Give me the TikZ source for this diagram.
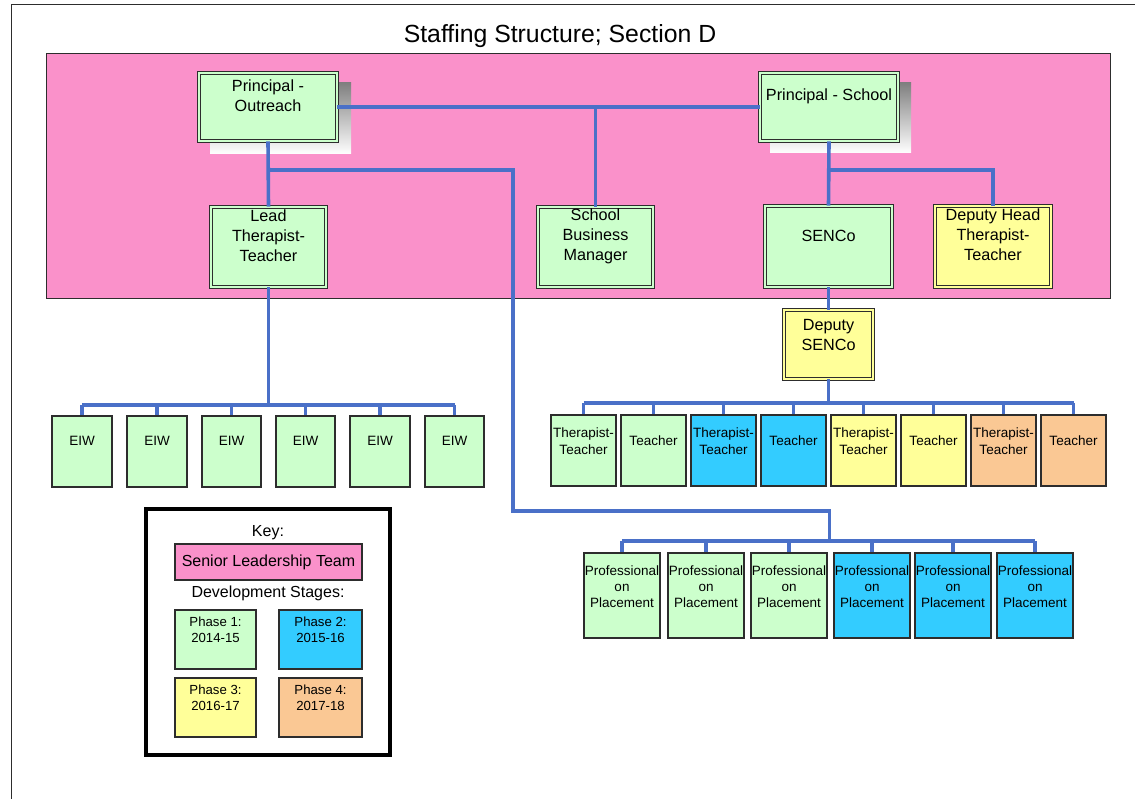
\documentclass[tikz,border=0pt]{standalone}
\usepackage{fontspec}
\setmainfont{Liberation Sans}
\definecolor{slt}{RGB}{250,145,202}
\definecolor{ph1}{RGB}{204,255,204}
\definecolor{ph2}{RGB}{51,204,255}
\definecolor{ph3}{RGB}{255,255,153}
\definecolor{ph4}{RGB}{250,200,148}
\definecolor{linkblue}{RGB}{74,112,200}
\definecolor{boxedge}{RGB}{45,45,45}
\definecolor{shade}{RGB}{200,200,200}
% box: name, style, left, top, right, bottom
\newcommand{\unitbox}[6]{%
  \node[#2, minimum width={(#5)-(#3)}, minimum height={(#6)-(#4)}] (#1)
    at ({((#3)+(#5))/2},{((#4)+(#6))/2}) {};}
\begin{document}
\begin{tikzpicture}[x=1pt,y=-1pt,
  conn/.style={draw=linkblue, line width=3.6pt},
  bigbox/.style={draw=boxedge, double=#1, double distance=2pt, line width=0.8pt, fill=#1, inner sep=0pt},
  smallbox/.style={draw=boxedge, line width=1.1pt, fill=#1, inner sep=0pt},
  big/.style={align=center, inner sep=0pt, font=\fontsize{16.2}{20}\selectfont},
  small/.style={align=center, inner sep=0pt, font=\fontsize{13.5}{17}\selectfont},
  pp/.style={align=center, inner sep=0pt, font=\fontsize{13.5}{16}\selectfont},
  phase/.style={align=center, inner sep=0pt, font=\fontsize{13.2}{16}\selectfont}]
\useasboundingbox (0,0) rectangle (1135,799);

% page frame
\draw[boxedge, line width=1pt] (11,799) -- (11,4.5) -- (1135,4.5);

% title
\node[inner sep=0pt, font=\fontsize{24.8}{28}\selectfont] (title) at (560,36) {Staffing Structure; Section D};

% senior leadership team band
\node[draw=boxedge, line width=1pt, fill=slt, minimum width=1064, minimum height=245, inner sep=0pt] (band) at (578,176.5) {};

% shadows of the principals
\fill[shade] (210,83) rectangle (351,154);
\fill[shade] (770,83) rectangle (911,153);

% senior leaders
\unitbox{po}{bigbox=ph1}{199}{73}{337}{141}
\unitbox{ps}{bigbox=ph1}{760}{73}{898}{141}
\unitbox{lt}{bigbox=ph1}{211}{207}{326}{287}
\unitbox{sbm}{bigbox=ph1}{538}{207}{653}{287}
\unitbox{sen}{bigbox=ph1}{765}{206}{892}{287}
\unitbox{dh}{bigbox=ph3}{935}{206}{1051}{287}
\unitbox{dsen}{bigbox=ph3}{784}{310}{873}{379}

\node[big] (po-t) at (268,96) {Principal -\\Outreach};
\node[big] (ps-t) at (829,96) {Principal - School};
\node[big] (lt-t) at (268.5,236) {Lead\\Therapist-\\Teacher};
\node[big] (sbm-t) at (595.5,236) {School\\Business\\Manager};
\node[big] (sen-t) at (828.5,236) {SENCo};
\node[big] (dh-t) at (993,235) {Deputy Head\\Therapist-\\Teacher};
\node[big] (dsen-t) at (828.5,335.5) {Deputy\\SENCo};

% early intervention workers
\unitbox{e1}{smallbox=ph1}{52}{416}{112}{487}
\unitbox{e2}{smallbox=ph1}{127}{416}{187}{487}
\unitbox{e3}{smallbox=ph1}{202}{416}{261}{487}
\unitbox{e4}{smallbox=ph1}{276}{416}{335}{487}
\unitbox{e5}{smallbox=ph1}{350}{416}{410}{487}
\unitbox{e6}{smallbox=ph1}{425}{416}{484}{487}
\foreach \i in {1,...,6}
  \node[small] (e\i-t) at (e\i |- 0,441) {EIW};

% therapist-teachers and teachers
\unitbox{t1}{smallbox=ph1}{551}{415}{616}{486}
\unitbox{t2}{smallbox=ph1}{621}{415}{686}{486}
\unitbox{t3}{smallbox=ph2}{691}{415}{756}{486}
\unitbox{t4}{smallbox=ph2}{761}{415}{826}{486}
\unitbox{t5}{smallbox=ph3}{831}{415}{896}{486}
\unitbox{t6}{smallbox=ph3}{901}{415}{966}{486}
\unitbox{t7}{smallbox=ph4}{971}{415}{1036}{486}
\unitbox{t8}{smallbox=ph4}{1041}{415}{1106}{486}
\foreach \i in {1,3,5,7}
  \node[small] (t\i-t) at (t\i |- 0,441) {Therapist-\\Teacher};
\foreach \i in {2,4,6,8}
  \node[small] (t\i-t) at (t\i |- 0,441) {Teacher};

% professionals on placement
\unitbox{p1}{smallbox=ph1}{584}{553}{660}{638}
\unitbox{p2}{smallbox=ph1}{668}{553}{744}{638}
\unitbox{p3}{smallbox=ph1}{751}{553}{827}{638}
\unitbox{p4}{smallbox=ph2}{834}{553}{910}{638}
\unitbox{p5}{smallbox=ph2}{915}{553}{991}{638}
\unitbox{p6}{smallbox=ph2}{997}{553}{1073}{638}
\foreach \i in {1,...,6}
  \node[pp] (p\i-t) at (p\i |- 0,587) {Professional\\on\\Placement};

% connectors
\coordinate (jo) at (268,170);
\coordinate (js) at (829,170);
\coordinate (dropA) at (513,170);
\coordinate (dropB) at (513,511);
\coordinate (dropC) at (829.5,511);
\coordinate (ebus) at (0,405);
\coordinate (tbus) at (0,403);
\coordinate (pbus) at (0,541);

\draw[conn] (po.east) -- (ps.west);
\draw[conn] (sbm.north) -- (sbm.north |- po.east);
\draw[conn] (po.south) -- (lt.north);
\draw[conn] (ps.south) -- (sen.north);
\draw[conn] (js) -- (js -| dh) -- (dh.north);
\draw[conn] (jo) -- (dropA) -- (dropB) -- (dropC) -- (dropC |- pbus);
\draw[conn] (sen.south) -- (dsen.north);

\draw[conn] (lt.south) -- (lt.south |- ebus);
\draw[conn] (e1 |- ebus) -- (e6 |- ebus);
\foreach \i in {1,...,6} \draw[conn] (e\i |- ebus) -- (e\i.north);

\draw[conn] (dsen.south) -- (dsen.south |- tbus);
\draw[conn] (t1 |- tbus) -- (t8 |- tbus);
\foreach \i in {1,...,8} \draw[conn] (t\i |- tbus) -- (t\i.north);

\draw[conn] (p1 |- pbus) -- (p6 |- pbus);
\foreach \i in {1,...,6} \draw[conn] (p\i |- pbus) -- (p\i.north);

% key
\node[draw=black, line width=3.6pt, minimum width=244, minimum height=246, inner sep=0pt] (key) at (268,632) {};
\node[inner sep=0pt, font=\fontsize{16}{20}\selectfont] (key-t) at (268,533) {Key:};
\unitbox{k0}{smallbox=slt}{175}{544}{362}{580}
\node[inner sep=0pt, font=\fontsize{16}{20}\selectfont] (k0-t) at (k0) {Senior Leadership Team};
\node[inner sep=0pt, font=\fontsize{16}{20}\selectfont] (stages) at (268,593) {Development Stages:};
\unitbox{k1}{smallbox=ph1}{175}{610}{256}{669}
\unitbox{k2}{smallbox=ph2}{279}{610}{362}{669}
\unitbox{k3}{smallbox=ph3}{175}{678}{256}{737}
\unitbox{k4}{smallbox=ph4}{279}{678}{362}{737}
\node[phase] (k1-t) at (k1 |- 0,630) {Phase 1:\\2014-15};
\node[phase] (k2-t) at (k2 |- 0,630) {Phase 2:\\2015-16};
\node[phase] (k3-t) at (k3 |- 0,698) {Phase 3:\\2016-17};
\node[phase] (k4-t) at (k4 |- 0,698) {Phase 4:\\2017-18};
\end{tikzpicture}
\end{document}
